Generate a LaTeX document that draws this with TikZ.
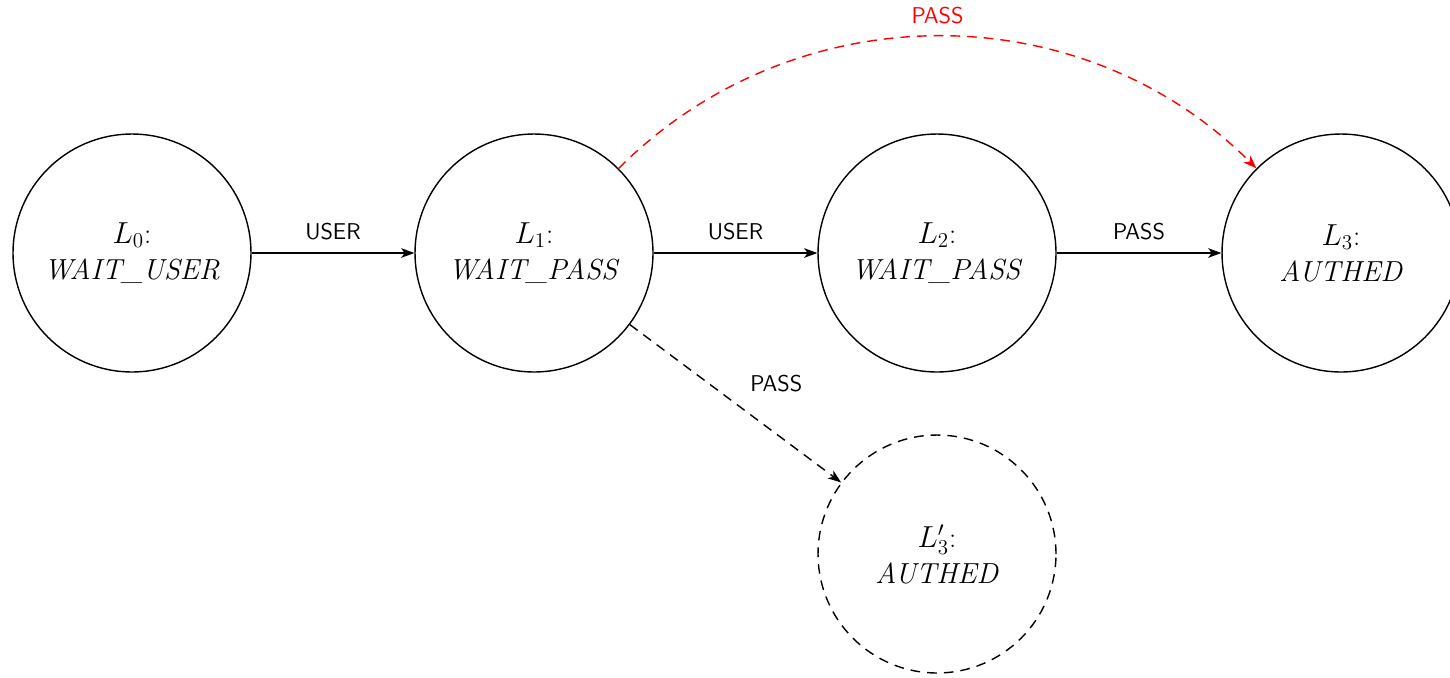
\documentclass[tikz,border=0pt]{standalone}
\usetikzlibrary{arrows.meta}
\begin{document}
\begin{tikzpicture}[x=0.02cm,y=-0.02cm,
  state/.style={circle,draw,line width=0.8pt,minimum size=4.76cm,inner sep=0pt,
    align=center,font=\fontsize{16.5}{20.5}\selectfont},
  ghost/.style={state,dashed,dash pattern=on 5.5pt off 4pt},
  edge/.style={line width=0.8pt,-{Stealth[length=7.5pt,width=5.5pt,inset=2pt]}},
  lbl/.style={font=\sffamily\fontsize{13}{15}\selectfont,inner sep=2pt},
  dashedge/.style={edge,dash pattern=on 5.5pt off 4pt}]
  \useasboundingbox (0,0) rectangle (1450,677);

  % states of the login automaton
  \node[state] (L0) at (132,253) {$L_0$:\\ \textit{WAIT\_USER}};
  \node[state] (L1) at (534,253) {$L_1$:\\ \textit{WAIT\_PASS}};
  \node[state] (L2) at (937,253) {$L_2$:\\ \textit{WAIT\_PASS}};
  \node[state] (L3) at (1341,253) {$L_3$:\\ \textit{AUTHED}};
  \node[ghost] (L3p) at (937,554) {$L_3'$:\\ \textit{AUTHED}};

  % transitions
  \draw[edge] (L0) -- node[lbl,above=5pt] {USER} (L1);
  \draw[edge] (L1) -- node[lbl,above=5pt] {USER} (L2);
  \draw[edge] (L2) -- node[lbl,above=5pt] {PASS} (L3);
  \draw[dashedge,red] (L1.45) to[bend left=45]
    node[lbl,above=5pt,text=red] {PASS} (L3.135);
  \draw[dashedge] (L1) -- node[lbl,anchor=south west,xshift=6pt,yshift=4pt] {PASS} (L3p);
\end{tikzpicture}
\end{document}
